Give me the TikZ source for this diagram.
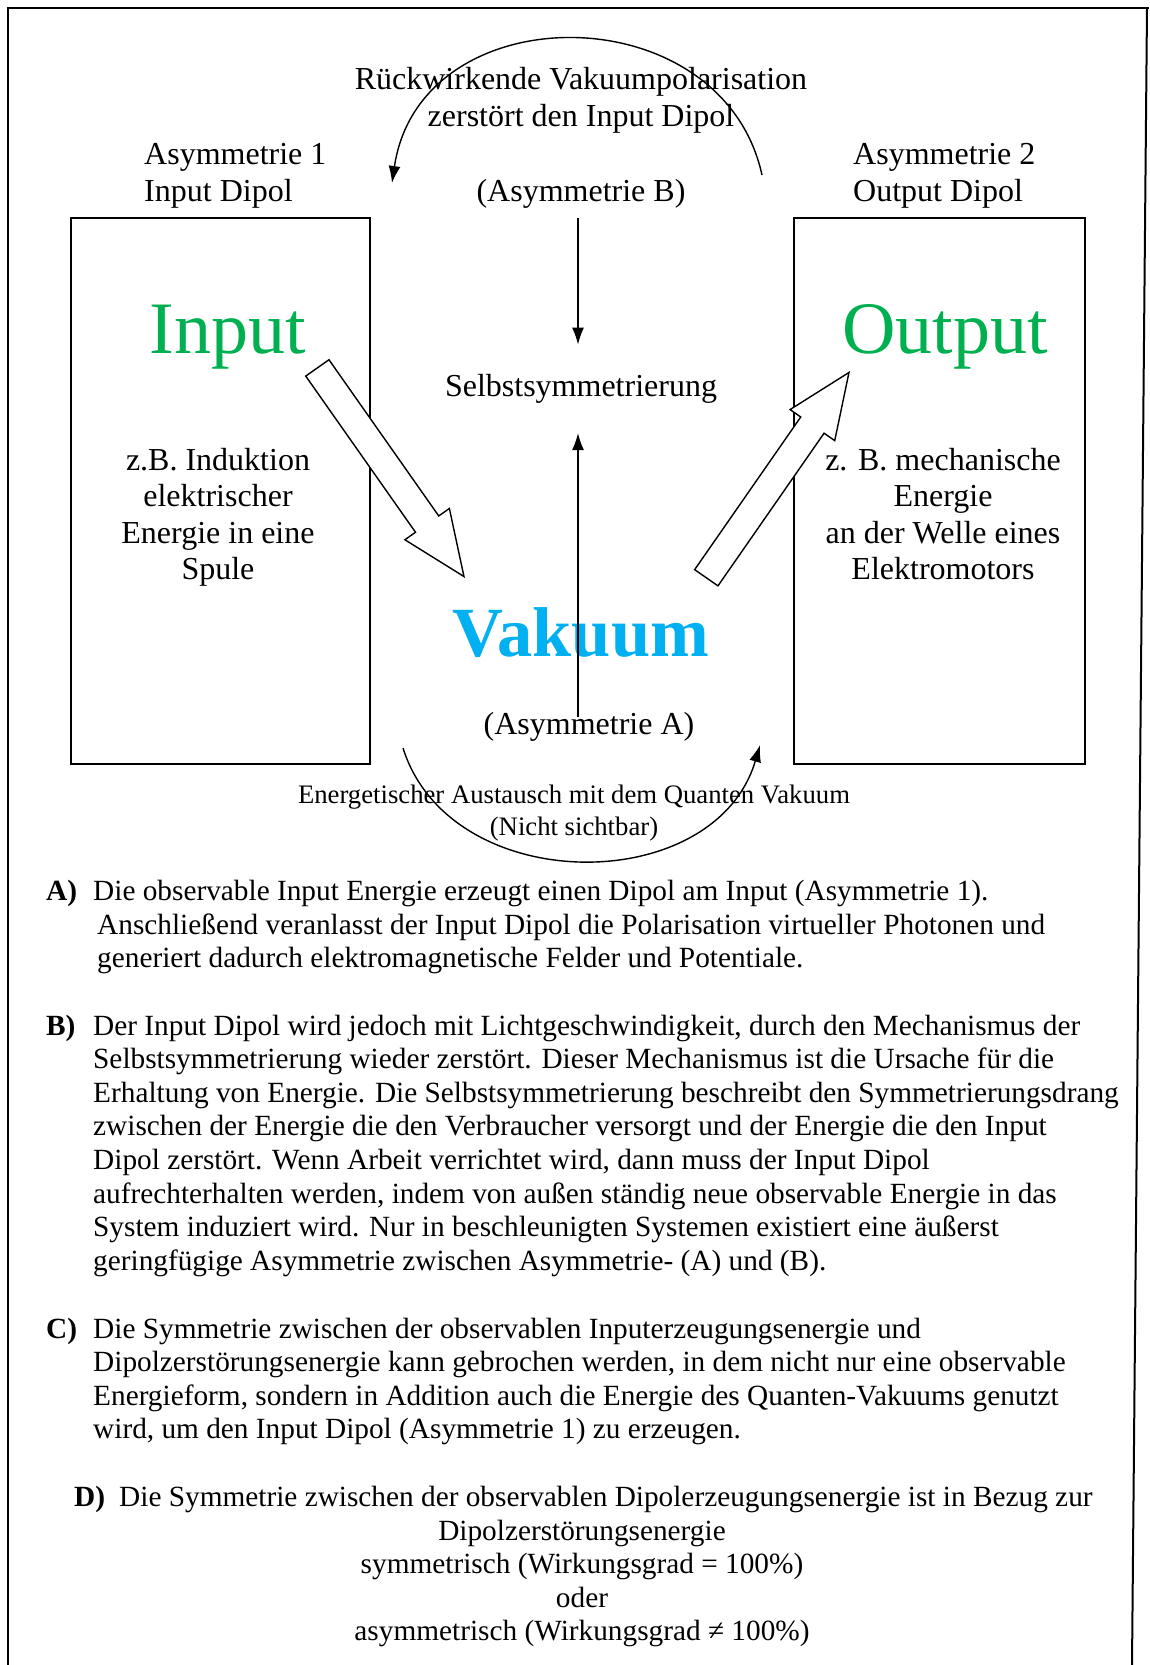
\documentclass[tikz,border=0pt]{standalone}
\usepackage{fontspec}
\setmainfont{Liberation Serif}
\usetikzlibrary{shapes.arrows, arrows.meta, positioning}

\definecolor{wordgreen}{RGB}{0,176,80}
\definecolor{wordblue}{RGB}{0,176,240}

\newcommand{\midfont}{\fontsize{32}{36.5}\selectfont}
\newcommand{\bodyfont}{\fontsize{29.3}{33.6}\selectfont}
\newcommand{\smallfont}{\fontsize{26.7}{32}\selectfont}

\begin{document}
\begin{tikzpicture}[x=1pt, y=-1pt, >={Latex[length=17pt,width=12pt]}]
		\tikzstyle{dipolbox}=[rectangle, draw, line width=1.6pt, inner sep=0pt]
		\tikzstyle{caption}=[align=center, font=\midfont, inner sep=0pt]
		\tikzstyle{bigword}=[font=\fontsize{74}{80}\selectfont, text=wordgreen, inner sep=0pt]
		\tikzstyle{hollow}=[single arrow, draw, fill=white, line width=1.4pt, inner xsep=0pt, inner ysep=13.5pt,
			single arrow head extend=13pt, single arrow tip angle=46, anchor=tip]
		\tikzstyle{para}=[align=left, font=\bodyfont, inner sep=0pt, anchor=base west]
		\tikzstyle{tag}=[font=\bodyfont\bfseries, inner sep=0pt, anchor=base west]
		\tikzstyle{flow}=[->, line width=1.4pt]

		\useasboundingbox (0,0) rectangle (1149,1665);

		% frame
		\draw[line width=2pt] (7.5,1665) -- (7.5,8) -- (1149,8);
		\draw[line width=2pt] (1147,8) -- (1132,1665);

		% the two dipoles
		\node[dipolbox, minimum width=299pt, minimum height=546pt] (inBox) at (220.5,491) {};
		\node[dipolbox, minimum width=291pt, minimum height=546pt] (outBox) at (939.5,491) {};

		% base of a node with several lines = base of its last line
		\node[caption, align=left, anchor=base west] (asym1) at (144,201) {Asymmetrie 1\\Input Dipol};
		\node[caption, align=left, anchor=base west] (asym2) at (853,201) {Asymmetrie 2\\Output Dipol};
		\node[caption, anchor=base] (backText) at (581,126) {R\"uckwirkende Vakuumpolarisation\\zerst\"ort den Input Dipol};
		\node[caption, anchor=base] (asymB) at (581,201) {(Asymmetrie B)};
		\node[caption, anchor=base] (selbst) at (581,396) {Selbstsymmetrierung};
		\node[caption, anchor=base] (asymA) at (589,734) {(Asymmetrie A)};

		\node[bigword, anchor=base] (inWord) at (228,353.6) {Input};
		\node[bigword, anchor=base] (outWord) at (945,353.6) {Output};
		\node[font=\fontsize{70.5}{76}\selectfont\bfseries, text=wordblue, inner sep=0pt, anchor=base]
		(vakuum) at (581,656) {Vakuum};

		\node[caption, anchor=base] (inText) at (218,579.5) {z.B. Induktion\\elektrischer\\Energie in eine\\Spule};
		\node[caption, anchor=base] (outText) at (943,579.5) {z. B. mechanische\\Energie\\an der Welle eines\\Elektromotors};

		\node[align=center, font=\smallfont, inner sep=0pt, anchor=base]
		(exchange) at (574,835) {Energetischer Austausch mit dem Quanten Vakuum\\(Nicht sichtbar)};

		% arrows
		\draw[flow, shorten <=10pt, shorten >=29pt] ([xshift=-3pt]asymB.south) -- ([xshift=-3pt]selbst.north);
		\draw[flow, shorten <=-5pt, shorten >=30pt] ([xshift=-11pt]asymA.north) -- ([xshift=-3pt]selbst.south);

		\node[hollow, minimum height=255pt, rotate=-54.9] (inArrow) at (465,578) {};
		\node[hollow, minimum height=250pt, rotate=55.2] (outArrow) at (850,371) {};

		\coordinate (backStart) at (762,175);
		\coordinate (backEnd) at (392,183);
		\draw[flow] (backStart) .. controls (722,-7) and (420,-7) .. (backEnd);

		\coordinate (swapStart) at (403,748);
		\coordinate (swapEnd) at (760,745);
		\draw[flow] (swapStart) .. controls (450,898) and (715,898) .. (swapEnd);

		% explanations
		\node[tag] (tagA) at (46,900.5) {A)};
		\node[para] (textA) at (93,967.7) {Die observable Input Energie erzeugt einen Dipol am Input (Asymmetrie 1).\\
			\hspace*{4pt}Anschlie\ss end veranlasst der Input Dipol die Polarisation virtueller Photonen und\\
			\hspace*{4pt}generiert dadurch elektromagnetische Felder und Potentiale.};

		\node[tag] (tagB) at (46,1035) {B)};
		\node[para] (textB) at (93,1270.2) {Der Input Dipol wird jedoch mit Lichtgeschwindigkeit, durch den Mechanismus der\\
			Selbstsymmetrierung wieder zerst\"ort. Dieser Mechanismus ist die Ursache f\"ur die\\
			Erhaltung von Energie. Die Selbstsymmetrierung beschreibt den Symmetrierungsdrang\\
			zwischen der Energie die den Verbraucher versorgt und der Energie die den Input\\
			Dipol zerst\"ort. Wenn Arbeit verrichtet wird, dann muss der Input Dipol\\
			aufrechterhalten werden, indem von au\ss en st\"andig neue observable Energie in das\\
			System induziert wird. Nur in beschleunigten Systemen existiert eine \"au\ss erst\\
			geringf\"ugige Asymmetrie zwischen Asymmetrie- (A) und (B).};

		\node[tag] (tagC) at (46,1338) {C)};
		\node[para] (textC) at (93,1438.8) {Die Symmetrie zwischen der observablen Inputerzeugungsenergie und\\
			Dipolzerst\"orungsenergie kann gebrochen werden, in dem nicht nur eine observable\\
			Energieform, sondern in Addition auch die Energie des Quanten-Vakuums genutzt\\
			wird, um den Input Dipol (Asymmetrie 1) zu erzeugen.};

		\node[tag] (tagD) at (74,1506) {D)};
		\node[para] (textD) at (119,1506) {Die Symmetrie zwischen der observablen Dipolerzeugungsenergie ist in Bezug zur};
		\node[align=center, font=\bodyfont, inner sep=0pt, anchor=base] (textD2) at (582,1640.8)
		{Dipolzerst\"orungsenergie\\symmetrisch (Wirkungsgrad = 100\%)\\oder\\asymmetrisch (Wirkungsgrad ≠ 100\%)};

	\end{tikzpicture}
\end{document}
